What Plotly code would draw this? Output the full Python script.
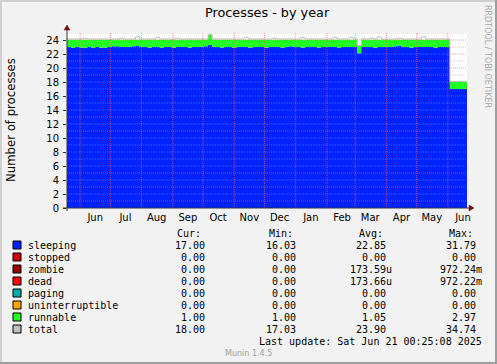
import pandas as pd
import plotly.graph_objects as go

# ---------------- data (4-day bins starting 2024-05-19) ----------------
bin_start = "2024-05-19"
bin_days = 4
sleeping = [
    23.0, 22.9, 23.0, 22.9, 22.9, 23.0, 22.9, 23.0, 22.9, 22.9,
    23.0, 23.1, 23.1, 23.0, 23.0, 23.0, 23.1, 23.2, 23.0, 23.0,
    22.9, 23.0, 23.0, 22.9, 23.0, 23.0, 22.9, 23.0, 23.0, 23.0,
    22.9, 23.0, 23.0, 23.0, 23.1, 23.3, 23.0, 23.0, 22.9, 23.0,
    23.0, 22.9, 23.0, 23.0, 23.0, 22.9, 23.0, 23.0, 23.0, 22.9,
    23.0, 23.0, 23.0, 22.9, 23.0, 23.1, 23.0, 23.0, 22.9, 23.0,
    23.0, 23.0, 22.9, 23.0, 23.0, 23.0, 23.0, 22.9, 23.0, 23.0,
    23.0, 23.0, 22.1, 23.0, 23.0, 23.0, 22.9, 23.0, 23.0, 23.0,
    23.0, 23.1, 23.2, 23.0, 23.0, 22.9, 23.0, 23.0, 23.0, 23.0,
    23.0, 22.9, 23.0, 23.0, 23.0, 17.0, 17.0, 17.0, 17.0, 17.0,
    17.0,
]
runnable = [
    1.05, 1.15, 1.05, 1.15, 1.15, 1.05, 1.15, 1.05, 1.15, 1.15,
    1.05, 0.95, 0.95, 1.05, 1.05, 1.05, 0.95, 0.85, 1.05, 1.05,
    1.15, 1.05, 1.05, 1.15, 1.05, 1.05, 1.15, 1.05, 1.05, 1.05,
    1.15, 1.05, 1.05, 1.05, 0.95, 1.45, 1.05, 1.05, 1.15, 1.05,
    1.05, 1.15, 1.05, 1.05, 1.05, 1.15, 1.05, 1.05, 1.05, 1.15,
    1.05, 1.05, 1.05, 1.15, 1.05, 0.95, 1.05, 1.05, 1.15, 1.05,
    1.05, 1.05, 1.15, 1.05, 1.05, 1.05, 1.05, 1.15, 1.05, 1.05,
    1.05, 1.05, 1.0, 1.05, 1.05, 1.05, 1.15, 1.05, 1.05, 1.05,
    1.05, 0.95, 0.85, 1.05, 1.05, 1.15, 1.05, 1.05, 1.05, 1.05,
    1.05, 1.15, 1.05, 1.05, 1.05, 1.0, 1.0, 1.0, 1.0, 1.0,
    1.0,
]
zeros_state = [0.0] * 101  # stopped, zombie, dead, paging, uninterruptible (≈0 on daily scale)
total = [
    24.15, 24.15, 24.15, 24.15, 24.25, 24.15, 24.15, 24.15, 24.15, 24.15,
    24.15, 24.15, 24.15, 24.25, 24.15, 24.15, 24.15, 24.45, 24.15, 24.15,
    24.15, 24.15, 24.35, 24.15, 24.15, 24.15, 24.15, 24.25, 24.15, 24.15,
    24.15, 24.15, 24.15, 24.15, 24.15, 24.8, 24.15, 24.15, 24.15, 24.15,
    24.15, 24.15, 24.15, 24.15, 24.35, 24.15, 24.15, 24.15, 24.15, 24.15,
    24.15, 24.25, 24.15, 24.15, 24.15, 24.15, 24.15, 24.15, 24.35, 24.15,
    24.15, 24.15, 24.15, 24.15, 24.15, 24.15, 24.35, 24.15, 24.15, 24.15,
    24.35, 24.15, 23.2, 24.15, 24.15, 24.25, 24.15, 24.45, 24.15, 24.15,
    24.15, 24.15, 24.25, 24.15, 24.15, 24.15, 24.15, 24.15, 24.45, 24.15,
    24.15, 24.15, 24.15, 24.15, 24.15, 18.1, 18.1, 18.1, 18.1, 18.1,
    18.1,
]

x_range = ["2024-05-19", "2025-06-20"]
month_labels = ["Jun", "Jul", "Aug", "Sep", "Oct", "Nov", "Dec",
                "Jan", "Feb", "Mar", "Apr", "May", "Jun"]
y_ticks = [0, 2, 4, 6, 8, 10, 12, 14, 16, 18, 20, 22, 24]

legend_names = ["sleeping", "stopped", "zombie", "dead", "paging",
                "uninterruptible", "runnable", "total"]
legend_colors = ["#0022ff", "#cc0000", "#990000", "#ff0000", "#00aaaa",
                 "#ffa500", "#22ff22", "#c0c0c0"]
cur_vals = ["17.00", "0.00", "0.00", "0.00", "0.00", "0.00", "1.00", "18.00"]
min_vals = ["16.03", "0.00", "0.00", "0.00", "0.00", "0.00", "1.00", "17.03"]
avg_vals = ["22.85", "0.00", "173.59u", "173.66u", "0.00", "0.00", "1.05", "23.90"]
max_vals = ["31.79", "0.00", "972.24m", "972.22m", "0.00", "0.00", "2.97", "34.74"]

title_text = "Processes - by year"
y_title = "Number of processes"
last_update = "Last update: Sat Jun 21 00:25:08 2025"
footer = "Munin 1.4.5"
credit = "RRDTOOL / TOBI OETIKER"

# ---------------- figure ----------------
W, H = 497, 364
L, R, T, B = 67, 467, 33, 208  # plot area in pixels


def PX(x):
    return (x - L) / (R - L)


def PY(y):
    return (B - y) / (B - T)


dates = pd.date_range(bin_start, periods=len(sleeping) - 1, freq=f"{bin_days}D")
dates = list(dates) + [pd.Timestamp(x_range[1])]

fig = go.Figure()
stack_series = [
    ("sleeping", sleeping, legend_colors[0]),
    ("stopped", zeros_state, legend_colors[1]),
    ("zombie", zeros_state, legend_colors[2]),
    ("dead", zeros_state, legend_colors[3]),
    ("paging", zeros_state, legend_colors[4]),
    ("uninterruptible", zeros_state, legend_colors[5]),
    ("runnable", runnable, legend_colors[6]),
]
for name, vals, col in stack_series:
    fig.add_trace(go.Scatter(
        x=dates, y=vals, name=name, stackgroup="one", mode="lines",
        line=dict(width=0, shape="hv", color=col), fillcolor=col,
        hoverinfo="skip", showlegend=False))
fig.add_trace(go.Scatter(
    x=dates, y=total, name="total", mode="lines",
    line=dict(width=1, shape="hv", color="#bdbdbd"),
    hoverinfo="skip", showlegend=False))

shapes = []
# horizontal grid (dotted)
for v in range(1, 26):
    col = "rgba(255,90,90,0.6)" if v % 2 == 0 else "rgba(200,140,140,0.55)"
    shapes.append(dict(type="line", xref="paper", yref="y", x0=0, x1=1, y0=v, y1=v,
                       line=dict(color=col, width=1, dash="1px,1px"), layer="above"))
# vertical month grid
for d in pd.date_range("2024-06-01", "2025-06-01", freq="MS"):
    shapes.append(dict(type="line", xref="x", yref="paper", x0=d, x1=d, y0=0, y1=1,
                       line=dict(color="rgba(255,90,90,0.65)", width=1, dash="1px,1px"),
                       layer="above"))
# axes lines + arrows
axis_col = "#333333"
arrow_col = "#7a1010"
shapes.append(dict(type="line", xref="paper", yref="paper", x0=PX(67), x1=PX(67),
                   y0=PY(211), y1=PY(29), line=dict(color=axis_col, width=1), layer="above"))
shapes.append(dict(type="line", xref="paper", yref="paper", x0=PX(63), x1=PX(470),
                   y0=PY(208), y1=PY(208), line=dict(color=axis_col, width=1), layer="above"))
shapes.append(dict(type="path", xref="paper", yref="paper",
                   path=f"M {PX(64)} {PY(30)} L {PX(70)} {PY(30)} L {PX(67)} {PY(25)} Z",
                   fillcolor=arrow_col, line=dict(color=arrow_col, width=0.5), layer="above"))
shapes.append(dict(type="path", xref="paper", yref="paper",
                   path=f"M {PX(469)} {PY(205)} L {PX(469)} {PY(211)} L {PX(474)} {PY(208)} Z",
                   fillcolor=arrow_col, line=dict(color=arrow_col, width=0.5), layer="above"))
# frame shading
shapes += [
    dict(type="rect", xref="paper", yref="paper", x0=PX(0), x1=PX(2), y0=PY(0), y1=PY(H),
         fillcolor="#cfcfcf", line=dict(width=0)),
    dict(type="rect", xref="paper", yref="paper", x0=PX(0), x1=PX(W), y0=PY(0), y1=PY(2),
         fillcolor="#cfcfcf", line=dict(width=0)),
    dict(type="rect", xref="paper", yref="paper", x0=PX(W - 2), x1=PX(W), y0=PY(0), y1=PY(H),
         fillcolor="#9e9e9e", line=dict(width=0)),
    dict(type="rect", xref="paper", yref="paper", x0=PX(0), x1=PX(W), y0=PY(H - 2), y1=PY(H),
         fillcolor="#9e9e9e", line=dict(width=0)),
]

annotations = []
mono = "DejaVu Sans Mono"
row_y0, row_dy = 245, 12
headers = [("Cur:", 176), ("Min:", 268), ("Avg:", 358), ("Max:", 448)]
for txt, x in headers:
    annotations.append(dict(text=txt, x=PX(x), y=PY(233), xref="paper", yref="paper",
                            xanchor="left", yanchor="middle", showarrow=False, borderpad=0,
                            font=dict(family=mono, size=10, color="#000")))
col_right = [212, 303, 393, 483]
for i, name in enumerate(legend_names):
    yy = row_y0 + i * row_dy
    shapes.append(dict(type="rect", xref="paper", yref="paper",
                       x0=PX(13), x1=PX(21), y0=PY(yy + 4), y1=PY(yy - 4),
                       fillcolor=legend_colors[i], line=dict(color="#000", width=1)))
    annotations.append(dict(text=name, x=PX(27), y=PY(yy), xref="paper", yref="paper",
                            xanchor="left", yanchor="middle", showarrow=False, borderpad=0,
                            font=dict(family=mono, size=10, color="#000")))
    for vals, xr in zip([cur_vals, min_vals, avg_vals, max_vals], col_right):
        v = vals[i]
        if not v[-1].isalpha():
            v = v + "\u00a0"
        annotations.append(dict(text=v, x=PX(xr), y=PY(yy), xref="paper", yref="paper",
                                xanchor="right", yanchor="middle", showarrow=False, borderpad=0,
                                font=dict(family=mono, size=10, color="#000")))
annotations.append(dict(text=last_update, x=PX(483), y=PY(341), xref="paper", yref="paper",
                        xanchor="right", yanchor="middle", showarrow=False, borderpad=0,
                        font=dict(family=mono, size=10, color="#000")))
annotations.append(dict(text=footer, x=PX(248), y=PY(353), xref="paper", yref="paper",
                        xanchor="center", yanchor="middle", showarrow=False, borderpad=0,
                        font=dict(family="DejaVu Sans", size=8, color="#a0a0a0")))
annotations.append(dict(text=title_text, x=PX(267), y=PY(13), xref="paper", yref="paper",
                        xanchor="center", yanchor="middle", showarrow=False, borderpad=0,
                        font=dict(family="DejaVu Sans", size=12.8, color="#000")))
annotations.append(dict(text=y_title, x=PX(11), y=PY(120), xref="paper", yref="paper",
                        xanchor="center", yanchor="middle", showarrow=False, borderpad=0,
                        textangle=-90,
                        font=dict(family="DejaVu Sans", size=11.7, color="#000")))
annotations.append(dict(text=credit, x=PX(488), y=PY(56), xref="paper", yref="paper",
                        xanchor="center", yanchor="middle", showarrow=False, borderpad=0,
                        textangle=90,
                        font=dict(family="DejaVu Sans", size=8, color="#a8a8a8")))

month_mids = [d + pd.Timedelta(days=15) for d in
              pd.date_range("2024-06-01", "2025-06-01", freq="MS")]

fig.update_layout(
    width=W, height=H,
    margin=dict(l=L, r=W - R, t=T, b=H - B, pad=0),
    paper_bgcolor="#f2f2f2", plot_bgcolor="#ffffff",
    showlegend=False,
    xaxis=dict(type="date", range=x_range, showgrid=False, zeroline=False,
               tickmode="array", tickvals=month_mids, ticktext=month_labels,
               ticks="", showline=False, automargin=False, ticklabelstandoff=2,
               tickfont=dict(family="DejaVu Sans", size=10, color="#000")),
    yaxis=dict(range=[0, 25], showgrid=False, zeroline=False,
               tickmode="array", tickvals=y_ticks, ticktext=[str(v) for v in y_ticks],
               ticks="outside", ticklen=3, tickcolor=axis_col, showline=False,
               automargin=False, ticklabelstandoff=2,
               tickfont=dict(family="DejaVu Sans", size=10, color="#000")),
    shapes=shapes, annotations=annotations,
)

fig.write_html("out.html", config={"displayModeBar": False},
               post_script="document.body.style.margin='0px';document.body.style.overflow='hidden';")
